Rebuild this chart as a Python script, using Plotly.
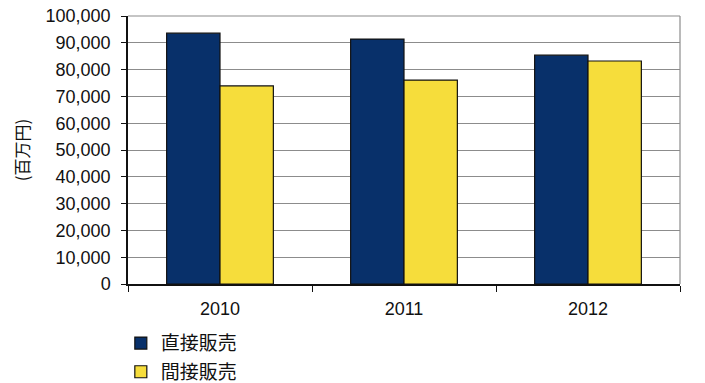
import plotly.graph_objects as go

years = ["2010", "2011", "2012"]
direct = [93600, 91400, 85400]
indirect = [73900, 76100, 83200]
series_names = ["直接販売", "間接販売"]
y_ticks = list(range(0, 100001, 10000))

font_family = "Liberation Sans, Arial, Noto Sans CJK JP, sans-serif"
cjk = "Noto Sans CJK JP, sans-serif"

fig = go.Figure()
fig.add_trace(go.Bar(x=years, y=direct, name=series_names[0], legendgroup="a",
                     marker=dict(color="#08306a", line=dict(color="#111111", width=1.2))))
fig.add_trace(go.Bar(x=years, y=indirect, name=series_names[1], legendgroup="b",
                     marker=dict(color="#f6dd3b", line=dict(color="#111111", width=1.2))))

fig.update_layout(
    width=705, height=383,
    margin=dict(l=128, r=25, t=16, b=99, autoexpand=False),
    paper_bgcolor="white", plot_bgcolor="white",
    barmode="group", bargap=0.42, bargroupgap=0,
    font=dict(family=font_family, size=18, color="#111111"),
    showlegend=True,
    legend=dict(x=-0.013, y=-0.15, xanchor="left", yanchor="top",
                font=dict(family=cjk, size=19),
                traceorder="grouped", tracegroupgap=1, itemwidth=30,
                bgcolor="rgba(0,0,0,0)"),
    xaxis=dict(showline=True, linecolor="#111111", linewidth=1.5,
               ticks="outside", ticklen=6, tickcolor="#111111", tickson="boundaries",
               ticklabelstandoff=8,
               tickfont=dict(size=18), showgrid=False, automargin=False),
    yaxis=dict(range=[0, 100000], tickvals=y_ticks,
               ticktext=[f"{v:,}" for v in y_ticks],
               showline=True, linecolor="#111111", linewidth=1.5,
               ticks="outside", ticklen=5, tickcolor="#111111",
               ticklabelstandoff=7,
               showgrid=True, gridcolor="#8c8c8c", gridwidth=1.2,
               tickfont=dict(size=18), zeroline=False, automargin=False,
               title=dict(text="(百万円)", font=dict(family=cjk, size=17),
                          standoff=12)),
)
fig.add_shape(type="line", xref="paper", yref="paper", x0=1, x1=1, y0=0, y1=1,
              line=dict(color="#8c8c8c", width=1.2))
fig.add_shape(type="line", xref="paper", yref="paper", x0=0, x1=1, y0=1, y1=1,
              line=dict(color="#8c8c8c", width=1.2))

fig.write_html("out.html")
